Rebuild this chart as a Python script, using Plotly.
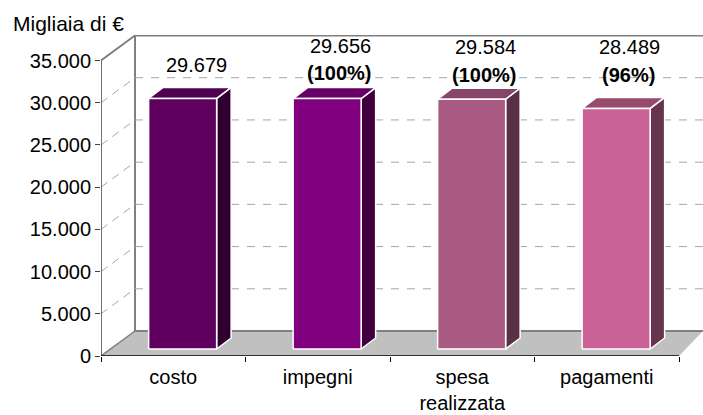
import plotly.graph_objects as go

categories = ["costo", "impegni", "spesa<br>realizzata", "pagamenti"]
values = [29679, 29656, 29584, 28489]
value_labels = ["29.679", "29.656", "29.584", "28.489"]
pct_labels = [None, "(100%)", "(100%)", "(96%)"]
front_colors = ["#5F005F", "#800080", "#A85A82", "#CB6295"]
top_colors = ["#4F004F", "#660066", "#86466A", "#964A6E"]
side_colors = ["#2F002F", "#400040", "#5A3048", "#65344E"]
y_ticks = [0, 5000, 10000, 15000, 20000, 25000, 30000, 35000]
y_labels = ["0", "5.000", "10.000", "15.000", "20.000", "25.000", "30.000", "35.000"]

W, H = 703, 415
L, R, T, B = 101, 0, 35, 59
CAT_PX = 144.5
UNIT_PX = 295.5 / 35000
DX = 34 / CAT_PX          # wall depth, x units
DY = 25 / UNIT_PX         # wall depth, y units
x_max = (W - L) / CAT_PX
y_max = (H - B - T) / UNIT_PX
BAR_W = 68 / CAT_PX
BAR_DX = 14.5 / CAT_PX
BAR_DY = 11 / UNIT_PX
BASE = 830
CENTER = 0.565

fig = go.Figure()


def poly(xs, ys, fill, line="rgba(0,0,0,0)", width=0):
    fig.add_trace(go.Scatter(x=xs, y=ys, mode="lines", fill="toself", fillcolor=fill,
                             line=dict(color=line, width=width), hoverinfo="skip", showlegend=False))


def seg(xs, ys, color, width=1, dash=None):
    fig.add_trace(go.Scatter(x=xs, y=ys, mode="lines", line=dict(color=color, width=width, dash=dash),
                             hoverinfo="skip", showlegend=False))


# floor
poly([0, DX, x_max, 4, 0], [0, DY, DY, 0, 0], "#C0C0C0")
seg([DX, x_max], [DY, DY], "#808080", 2)
seg([0, DX], [0, DY], "#808080", 1.5)
# walls
seg([DX, DX], [DY, 35000 + DY], "#808080", 2)
seg([0, DX, x_max], [35000, 35000 + DY, 35000 + DY], "#808080", 2)
for t in y_ticks[1:-1]:
    seg([DX, x_max], [t + DY, t + DY], "#A6A6A6", 1, "8px,8px")
    seg([0, DX], [t, t + DY], "#A6A6A6", 1, "8px,6px")
# axes
seg([0, 0], [0, 35000], "#404040", 1.5)
seg([0, 4], [0, 0], "#000000", 1.5)

# bars
for i, v in enumerate(values):
    x0 = i + CENTER - BAR_W / 2
    x1 = x0 + BAR_W
    y0 = BASE
    y1 = v + BASE
    poly([x1, x1 + BAR_DX, x1 + BAR_DX, x1, x1], [y0, y0 + BAR_DY, y1 + BAR_DY, y1, y0],
         side_colors[i], "#FFFFFF", 1.5)
    poly([x0, x0 + BAR_DX, x1 + BAR_DX, x1, x0], [y1, y1 + BAR_DY, y1 + BAR_DY, y1, y1],
         top_colors[i], "#FFFFFF", 1.5)
    poly([x0, x0, x1, x1, x0], [y0, y1, y1, y0, y0], front_colors[i], "#FFFFFF", 1.5)

FONT = "Liberation Sans, Arial, sans-serif"
SIZE = 20
label_y = [(356 - 65) / UNIT_PX, (356 - 46) / UNIT_PX, (356 - 47) / UNIT_PX, (356 - 47) / UNIT_PX]
pct_y = [None, (356 - 73) / UNIT_PX, (356 - 75) / UNIT_PX, (356 - 75) / UNIT_PX]
for i, t in enumerate(value_labels):
    fig.add_annotation(x=i + CENTER + 0.095, y=label_y[i], text=t, showarrow=False,
                       font=dict(family=FONT, size=SIZE, color="#000"), xanchor="center", yanchor="middle")
    if pct_labels[i]:
        fig.add_annotation(x=i + CENTER + 0.085, y=pct_y[i], text="<b>" + pct_labels[i] + "</b>", showarrow=False,
                           font=dict(family=FONT, size=SIZE, color="#000"), xanchor="center", yanchor="middle")
fig.add_annotation(xref="paper", yref="paper", x=(11 - L) / (W - L), y=1 + 12 / (H - T - B),
                   text="Migliaia di €", showarrow=False, xanchor="left", yanchor="middle",
                   font=dict(family=FONT, size=21, color="#000"))

fig.update_layout(
    width=W, height=H, autosize=False,
    margin=dict(l=L, r=R, t=T, b=B, pad=0),
    plot_bgcolor="#FFFFFF", paper_bgcolor="#FFFFFF",
    showlegend=False, hovermode=False,
    font=dict(family=FONT, size=SIZE, color="#000"),
    xaxis=dict(range=[0, x_max], showgrid=False, zeroline=False, showline=False, automargin=False,
               tickmode="array", tickvals=[i + 0.5 for i in range(4)], ticktext=categories,
               ticks="", ticklabelstandoff=7, tickfont=dict(family=FONT, size=20, color="#000"),
               minor=dict(tick0=0, dtick=1, ticks="outside", ticklen=5, tickcolor="#000", tickwidth=1, showgrid=False)),
    yaxis=dict(range=[0, y_max], showgrid=False, zeroline=False, showline=False, automargin=False,
               tickmode="array", tickvals=y_ticks, ticktext=y_labels,
               ticks="outside", ticklen=5, tickcolor="#404040", tickwidth=1),
)
fig.write_html("out.html", config=dict(displayModeBar=False),
               post_script="document.documentElement.style.margin='0';document.body.style.margin='0';document.body.style.overflow='hidden';")
